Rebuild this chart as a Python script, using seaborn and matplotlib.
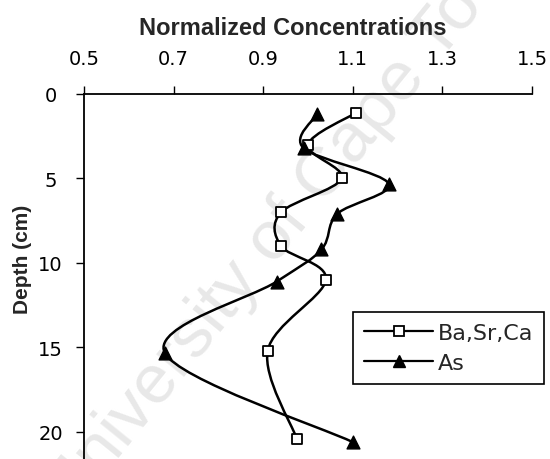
import numpy as np
import pandas as pd
import matplotlib
matplotlib.use("Agg")
import matplotlib.pyplot as plt
from matplotlib.path import Path
from matplotlib.patches import PathPatch
from matplotlib.lines import Line2D
import seaborn as sns

# ---- data ----
depth_basrca = [1.1, 3.0, 5.0, 7.0, 9.0, 11.0, 15.2, 20.4]
basrca = [1.108, 1.00, 1.075, 0.94, 0.94, 1.04, 0.91, 0.975]
depth_as = [1.2, 3.2, 5.3, 7.1, 9.2, 11.1, 15.3, 20.6]
arsenic = [1.02, 0.99, 1.18, 1.065, 1.03, 0.93, 0.68, 1.10]
series_names = ["Ba,Sr,Ca", "As"]
xticks = [0.5, 0.7, 0.9, 1.1, 1.3, 1.5]
yticks = [0, 5, 10, 15, 20]

sns.set_style("white")
plt.rcParams["font.family"] = ["Liberation Sans", "DejaVu Sans"]

fig = plt.figure(figsize=(5.5, 4.6), dpi=100)
ax = fig.add_axes([84 / 550, 0.0, (532 - 84) / 550, 1 - 95 / 460])
ax.patch.set_alpha(0)

# watermark from the scan
fig.text(0.53, 0.53, "University of Cape Town", rotation=51, fontsize=50,
         color="#e8e8e8", ha="center", va="center", zorder=-5)


def smooth_path(xs, ys):
    """Excel-like smoothed line through the data points (cubic Bezier)."""
    pts = np.column_stack([xs, ys]).astype(float)
    n = len(pts)
    verts = [pts[0]]
    codes = [Path.MOVETO]
    for i in range(n - 1):
        p0 = pts[i - 1] if i > 0 else pts[i]
        p1 = pts[i]
        p2 = pts[i + 1]
        p3 = pts[i + 2] if i + 2 < n else pts[i + 1]
        c1 = p1 + (p2 - p0) / 6.0
        c2 = p2 - (p3 - p1) / 6.0
        verts += [c1, c2, p2]
        codes += [Path.CURVE4] * 3
    return Path(verts, codes)


for xs, ys in [(basrca, depth_basrca), (arsenic, depth_as)]:
    ax.add_patch(PathPatch(smooth_path(xs, ys), facecolor="none",
                           edgecolor="black", lw=1.8, zorder=2))

df_b = pd.DataFrame({"conc": basrca, "depth": depth_basrca})
df_a = pd.DataFrame({"conc": arsenic, "depth": depth_as})
sns.scatterplot(data=df_b, x="conc", y="depth", marker="s", s=55,
                facecolor="white", edgecolor="black", linewidth=1.3,
                ax=ax, zorder=3)
sns.scatterplot(data=df_a, x="conc", y="depth", marker="^", s=85,
                color="black", edgecolor="black", linewidth=1,
                ax=ax, zorder=3)

ax.set_xlim(0.5, 1.5)
ax.set_ylim(21.6, 0)
ax.xaxis.tick_top()
ax.set_xticks(xticks)
ax.set_xticklabels([f"{v:.1f}" for v in xticks], family="DejaVu Sans")
ax.set_yticks(yticks)
ax.set_yticklabels([str(v) for v in yticks], family="DejaVu Sans")
ax.tick_params(axis="x", direction="out", length=6, width=1, pad=12.5,
               labelsize=14, colors="black", top=True, bottom=False)
ax.tick_params(axis="y", direction="out", length=6, width=1, pad=18,
               labelsize=14, colors="black", left=True)
for lab in ax.get_yticklabels():
    lab.set_horizontalalignment("center")
ax.set_xlabel("")
ax.set_ylabel("")

for s in ["right", "bottom"]:
    ax.spines[s].set_visible(False)
for s in ["top", "left"]:
    ax.spines[s].set_color("black")
    ax.spines[s].set_linewidth(1.3)

fig.text(293 / 550, 1 - 35 / 460, "Normalized Concentrations",
         fontsize=17, fontweight="bold", ha="center", va="baseline")
fig.text(23 / 550, 1 - 259 / 460, "Depth (cm)", fontsize=15,
         fontweight="bold", rotation=90, ha="center", va="center")

handles = [
    Line2D([], [], color="black", lw=1.6, marker="s", markersize=6.5,
           markerfacecolor="white", markeredgecolor="black", markeredgewidth=1.3),
    Line2D([], [], color="black", lw=1.6, marker="^", markersize=9,
           markerfacecolor="black", markeredgecolor="black"),
]
leg = ax.legend(handles, series_names, loc="upper left",
                bbox_to_anchor=(353 / 550, 1 - 313 / 460),
                bbox_transform=fig.transFigure, borderaxespad=0,
                prop={"family": "DejaVu Sans", "size": 16},
                frameon=True, fancybox=False, framealpha=1,
                edgecolor="black", handlelength=3.1, handletextpad=0.2,
                borderpad=0.5, labelspacing=0.45)
leg.get_frame().set_linewidth(1.2)

fig.savefig("out.png", dpi=100)
